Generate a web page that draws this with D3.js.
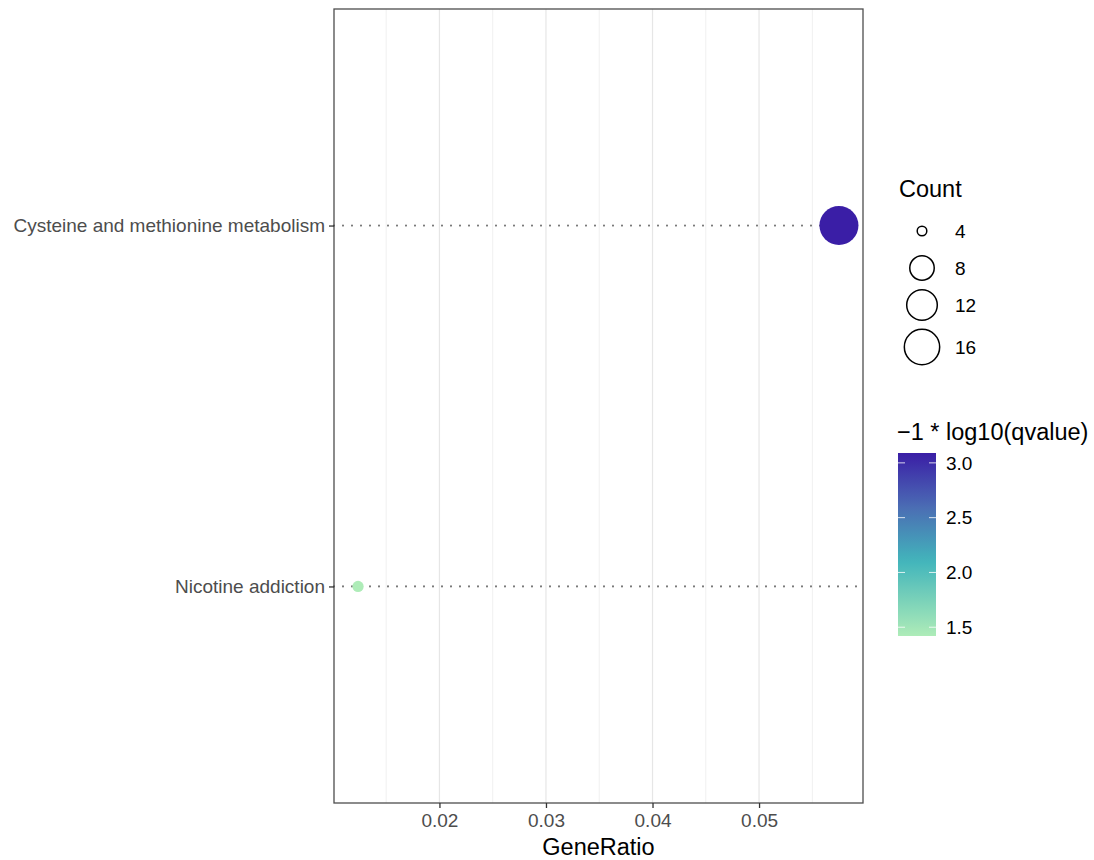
<!DOCTYPE html>
<html lang="en">
  <head>
    <meta charset="UTF-8" />
    <title>GeneRatio dot plot</title>
    <script src="https://cdn.jsdelivr.net/npm/d3@7"></script>
    <style>
      body { margin: 0; background: #fff; }
      text { font-family: "Liberation Sans", Arial, sans-serif; }
    </style>
  </head>
  <body>
    <svg width="1094" height="860"></svg>
    <script>
      // data
      const pathways = ["Cysteine and methionine metabolism", "Nicotine addiction"];
      const geneRatio = [0.0575, 0.01236];
      const counts = [18, 4];
      const negLogQ = [3.09, 1.42];
      const xTicks = [0.02, 0.03, 0.04, 0.05];
      const xMinor = [0.015, 0.025, 0.035, 0.045, 0.055];
      const sizeBreaks = [4, 8, 12, 16];
      const colorBreaks = [1.5, 2.0, 2.5, 3.0];

      const svg = d3.select("svg");
      const panel = { left: 334, right: 863, top: 9, bottom: 803 };

      // ggplot style 5% expansion
      const xr = d3.extent(geneRatio);
      const pad = (xr[1] - xr[0]) * 0.05;
      const x = d3.scaleLinear().domain([xr[0] - pad, xr[1] + pad]).range([panel.left, panel.right]);
      // discrete y, first category on top, 0.6 expansion
      const y = d3.scaleLinear().domain([-0.6, pathways.length - 1 + 0.6]).range([panel.top, panel.bottom]);

      const cMin = d3.min(negLogQ), cMax = d3.max(negLogQ);
      const color = d3.scaleLinear()
        .domain([cMin, 2.1, 2.6, cMax])
        .range(["#aeecb8", "#42b5bb", "#4b6cb4", "#3a1ea6"]);

      const cntExt = d3.extent(counts);
      const sq = d3.scaleSqrt().domain([0, cntExt[1] - cntExt[0]]).range([0, 13.9]);
      const r = (c) => 5.6 + sq(c - cntExt[0]);

      // grid
      svg.append("g").selectAll("line").data(xMinor).join("line")
        .attr("x1", (d) => x(d)).attr("x2", (d) => x(d))
        .attr("y1", panel.top).attr("y2", panel.bottom)
        .attr("stroke", "#f0f0f0").attr("stroke-width", 1);
      svg.append("g").selectAll("line").data(xTicks).join("line")
        .attr("x1", (d) => x(d)).attr("x2", (d) => x(d))
        .attr("y1", panel.top).attr("y2", panel.bottom)
        .attr("stroke", "#e6e6e6").attr("stroke-width", 1.2);

      // dotted row lines
      svg.append("g").selectAll("line").data(pathways).join("line")
        .attr("x1", panel.left).attr("x2", panel.right)
        .attr("y1", (d, i) => y(i)).attr("y2", (d, i) => y(i))
        .attr("stroke", "#7a7a7a").attr("stroke-width", 2.2)
        .attr("stroke-linecap", "round")
        .attr("stroke-dasharray", "0,9");

      // points
      svg.append("g").selectAll("circle").data(pathways).join("circle")
        .attr("cx", (d, i) => x(geneRatio[i]))
        .attr("cy", (d, i) => y(i))
        .attr("r", (d, i) => r(counts[i]))
        .attr("fill", (d, i) => color(negLogQ[i]));

      // panel border
      svg.append("rect").attr("x", panel.left).attr("y", panel.top)
        .attr("width", panel.right - panel.left).attr("height", panel.bottom - panel.top)
        .attr("fill", "none").attr("stroke", "#4d4d4d").attr("stroke-width", 1.3);

      // x axis
      const xAxis = svg.append("g").attr("transform", `translate(0,${panel.bottom})`)
        .call(d3.axisBottom(x).tickValues(xTicks).tickFormat(d3.format(".2f")).tickSize(5).tickPadding(6));
      xAxis.select(".domain").remove();
      xAxis.selectAll("line").attr("stroke", "#333").attr("stroke-width", 1.3);
      xAxis.selectAll("text").attr("fill", "#4d4d4d").attr("font-size", 19)
        .style("font-family", "'Liberation Sans', Arial, sans-serif");

      // y axis
      const yAxis = svg.append("g").attr("transform", `translate(${panel.left},0)`)
        .call(d3.axisLeft(y).tickValues(pathways.map((d, i) => i)).tickFormat((i) => pathways[i]).tickSize(5).tickPadding(4));
      yAxis.select(".domain").remove();
      yAxis.selectAll("line").attr("stroke", "#333").attr("stroke-width", 1.3);
      yAxis.selectAll("text").attr("fill", "#4d4d4d").attr("font-size", 19)
        .style("font-family", "'Liberation Sans', Arial, sans-serif");

      svg.append("text").attr("x", (panel.left + panel.right) / 2).attr("y", 855)
        .attr("text-anchor", "middle").attr("font-size", 23.5).attr("fill", "#000")
        .text("GeneRatio");

      // size legend
      const sl = svg.append("g");
      sl.append("text").attr("x", 899).attr("y", 197).attr("font-size", 23.5).text("Count");
      const sY = [231, 268, 305, 347];
      sl.selectAll("circle").data(sizeBreaks).join("circle")
        .attr("cx", 922).attr("cy", (d, i) => sY[i])
        .attr("r", (d) => r(d) - 0.8)
        .attr("fill", "#fff").attr("stroke", "#000").attr("stroke-width", 1.5);
      sl.selectAll("text.lab").data(sizeBreaks).join("text").attr("class", "lab")
        .attr("x", 955).attr("y", (d, i) => sY[i]).attr("dy", "0.35em")
        .attr("font-size", 19).attr("fill", "#000").text((d) => d);

      // colour legend
      const cl = svg.append("g");
      cl.append("text").attr("x", 897).attr("y", 440).attr("font-size", 23.5).text("\u22121 * log10(qvalue)");
      const barTop = 453, barBot = 636, barX = 898, barW = 38;
      const cy = d3.scaleLinear().domain([cMin, cMax]).range([barBot, barTop]);
      const grad = svg.append("defs").append("linearGradient").attr("id", "cbar")
        .attr("x1", 0).attr("y1", 1).attr("x2", 0).attr("y2", 0);
      d3.range(0, 1.0001, 0.05).forEach((t) => {
        grad.append("stop").attr("offset", t).attr("stop-color", color(cMin + t * (cMax - cMin)));
      });
      cl.append("rect").attr("x", barX).attr("y", barTop).attr("width", barW)
        .attr("height", barBot - barTop).attr("fill", "url(#cbar)");
      cl.selectAll("line.l").data(colorBreaks).join("line").attr("class", "l")
        .attr("x1", barX).attr("x2", barX + 7).attr("y1", (d) => cy(d)).attr("y2", (d) => cy(d))
        .attr("stroke", "#fff").attr("stroke-opacity", 0.8).attr("stroke-width", 1);
      cl.selectAll("line.r").data(colorBreaks).join("line").attr("class", "r")
        .attr("x1", barX + barW - 7).attr("x2", barX + barW).attr("y1", (d) => cy(d)).attr("y2", (d) => cy(d))
        .attr("stroke", "#fff").attr("stroke-opacity", 0.8).attr("stroke-width", 1);
      cl.selectAll("text.t").data(colorBreaks).join("text").attr("class", "t")
        .attr("x", 946).attr("y", (d) => cy(d)).attr("dy", "0.35em")
        .attr("font-size", 19).attr("fill", "#000").text((d) => d3.format(".1f")(d));
    </script>
  </body>
</html>
